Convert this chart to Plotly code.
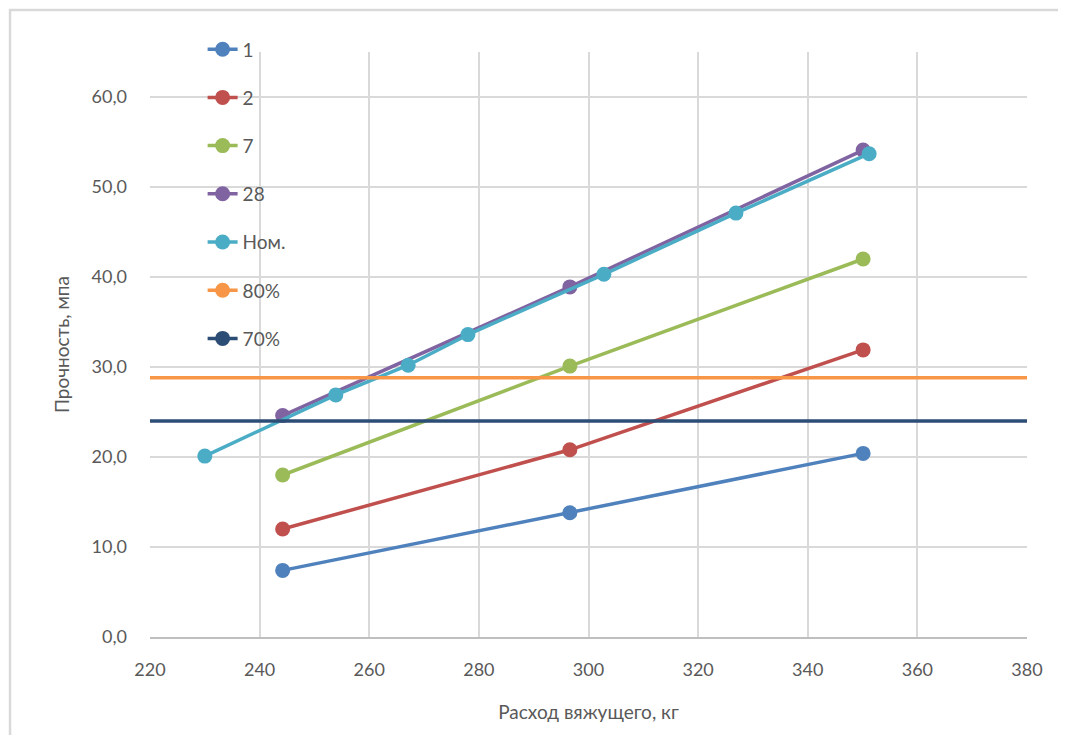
import plotly.graph_objects as go

# Data
x_main = [244.2, 296.6, 350.1]
s1 = [7.4, 13.8, 20.4]
s2 = [12.0, 20.8, 31.9]
s7 = [18.0, 30.1, 42.0]
s28 = [24.6, 38.9, 54.1]
x_nom = [230.0, 253.9, 267.1, 278.0, 302.8, 326.9, 351.2]
s_nom = [20.1, 26.9, 30.2, 33.6, 40.3, 47.1, 53.7]
x_ref = [200, 400]
s80 = [28.8, 28.8]
s70 = [24.0, 24.0]

series = [
    ("1", x_main, s1, "#4F81BD"),
    ("2", x_main, s2, "#C0504D"),
    ("7", x_main, s7, "#9BBB59"),
    ("28", x_main, s28, "#8064A2"),
    ("Ном.", x_nom, s_nom, "#4BACC6"),
    ("80%", x_ref, s80, "#F79646"),
    ("70%", x_ref, s70, "#2C4D75"),
]

fig = go.Figure()
for i, (name, xs, ys, col) in enumerate(series):
    fig.add_trace(go.Scatter(
        x=xs, y=ys, name=name, mode="lines+markers",
        line=dict(color=col, width=3.5),
        marker=dict(color=col, size=15),
        legendgroup="g%d" % i,
    ))

txt = "#595959"
fig.update_layout(
    width=1066, height=735,
    margin=dict(l=142, r=47, t=44, b=106),
    paper_bgcolor="white", plot_bgcolor="white",
    font=dict(family="Lato, Noto Sans, sans-serif", size=18, color=txt),
    separators=", ",
    showlegend=True,
    legend=dict(
        x=0.06, y=1.037, xanchor="left", yanchor="top",
        bgcolor="rgba(0,0,0,0)", font=dict(size=19, color=txt),
        traceorder="grouped", tracegroupgap=20.5,
    ),
    xaxis=dict(
        range=[220, 380], dtick=20, tick0=220,
        showgrid=True, gridcolor="#D9D9D9", gridwidth=1.5,
        showline=True, linecolor="#BFBFBF", linewidth=1.5,
        zeroline=False, ticks="", ticklabelstandoff=16,
        title=dict(text="Расход вяжущего, кг", font=dict(size=19, color=txt), standoff=26),
        tickfont=dict(size=18, color=txt),
    ),
    yaxis=dict(
        range=[0, 65], dtick=10, tick0=0, tickformat=".1f",
        showgrid=True, gridcolor="#D9D9D9", gridwidth=1.5,
        showline=False, zeroline=False, ticks="", ticklabelstandoff=22,
        title=dict(text="Прочность, мпа", font=dict(size=19, color=txt), standoff=16),
        tickfont=dict(size=18, color=txt),
    ),
    shapes=[dict(
        type="rect", xref="paper", yref="paper",
        x0=-0.1596, x1=1.06, y0=-0.2, y1=1.072,
        line=dict(color="#D9D9D9", width=2.5), fillcolor="rgba(0,0,0,0)", layer="below",
    )],
)

fig.write_html("out.html")
